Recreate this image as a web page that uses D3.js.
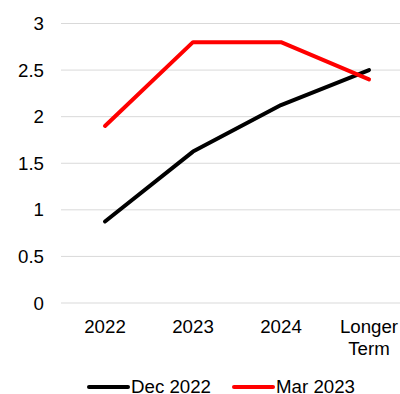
<!DOCTYPE html>
<html>
<head>
<meta charset="utf-8">
<script src="https://cdn.jsdelivr.net/npm/d3@7"></script>
<style>
  body { margin: 0; background: #fff; }
  svg { display: block; font-family: "Liberation Sans", Arial, sans-serif; }
</style>
</head>
<body>
<svg id="chart"></svg>
<script>
const categories = ['2022', '2023', '2024', 'Longer Term'];
const dec2022 = [0.875, 1.625, 2.125, 2.5];
const mar2023 = [1.9, 2.8, 2.8, 2.4];
const yTicks = [0, 0.5, 1, 1.5, 2, 2.5, 3];

const series = [
  {name: 'Dec 2022', values: dec2022, color: '#000000'},
  {name: 'Mar 2023', values: mar2023, color: '#ff0000'}
];

const width = 400;
const height = 394;
const plotLeft = 61;
const plotTop = 23.5;
const plotBottom = 303;
const fontSize = 18.7;

const svg = d3.select('#chart')
  .attr('width', width)
  .attr('height', height);

const x = d3.scalePoint()
  .domain(categories)
  .range([plotLeft + 44, plotLeft + 44 + 3 * 88]);

const y = d3.scaleLinear()
  .domain([0, 3])
  .range([plotBottom, plotTop]);

// gridlines
svg.append('g')
  .selectAll('line')
  .data(yTicks)
  .join('line')
  .attr('x1', plotLeft)
  .attr('x2', plotLeft + 4 * 88)
  .attr('y1', d => y(d))
  .attr('y2', d => y(d))
  .attr('stroke', '#d9d9d9')
  .attr('stroke-width', 1);

// y axis labels
svg.append('g')
  .selectAll('text')
  .data(yTicks)
  .join('text')
  .attr('x', 44)
  .attr('y', d => y(d))
  .attr('dy', '0.35em')
  .attr('text-anchor', 'end')
  .attr('font-size', fontSize)
  .attr('fill', '#000')
  .text(d => d);

// x axis labels
const xl = svg.append('g')
  .selectAll('text')
  .data(categories)
  .join('text')
  .attr('x', d => x(d))
  .attr('y', 333)
  .attr('text-anchor', 'middle')
  .attr('font-size', fontSize)
  .attr('fill', '#000');

xl.each(function(d) {
  const words = d.split(' ');
  const t = d3.select(this);
  words.forEach((w, i) => {
    t.append('tspan')
      .attr('x', x(d))
      .attr('dy', i === 0 ? 0 : 22)
      .text(w);
  });
});

// lines
const line = d3.line()
  .x((d, i) => x(categories[i]))
  .y(d => y(d));

svg.append('g')
  .selectAll('path')
  .data(series)
  .join('path')
  .attr('d', d => line(d.values))
  .attr('fill', 'none')
  .attr('stroke', d => d.color)
  .attr('stroke-width', 4)
  .attr('stroke-linejoin', 'round')
  .attr('stroke-linecap', 'round');

// legend
const legendX = [89, 234];
const lg = svg.append('g')
  .selectAll('g')
  .data(series)
  .join('g')
  .attr('transform', (d, i) => `translate(${legendX[i]}, 387)`);

lg.append('line')
  .attr('x1', 0)
  .attr('x2', 39)
  .attr('stroke', d => d.color)
  .attr('stroke-width', 4)
  .attr('stroke-linecap', 'round');

lg.append('text')
  .attr('x', 42)
  .attr('y', 6.3)
  .attr('font-size', fontSize)
  .attr('fill', '#000')
  .text(d => d.name);
</script>
</body>
</html>
